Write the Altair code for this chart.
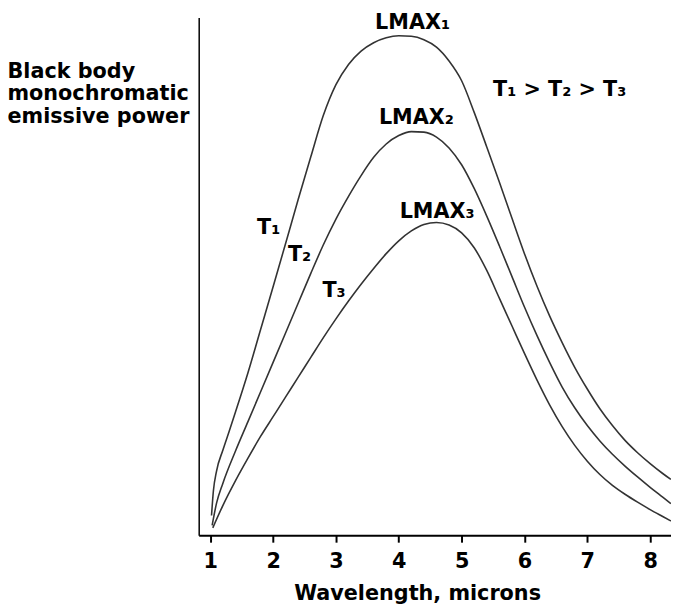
import altair as alt
import pandas as pd

# Curve T1 (hottest)
t1_x = [1.02, 1.05, 1.10, 1.20, 1.30, 1.40, 1.60, 1.80, 2.00, 2.20, 2.40, 2.60, 2.80, 3.00,
        3.20, 3.40, 3.60, 3.80, 4.00, 4.20, 4.40, 4.60, 4.80, 5.00, 5.20, 5.40, 5.60, 5.80,
        6.00, 6.20, 6.40, 6.60, 6.80, 7.00, 7.20, 7.40, 7.60, 7.80, 8.00, 8.20, 8.33]
t1_y = [4.0, 9.0, 13.0, 17.2, 21.0, 24.9, 32.9, 41.6, 50.3, 59.1, 68.0, 76.6, 85.0, 91.2,
        95.3, 98.0, 99.7, 100.7, 101.1, 101.0, 100.3, 98.8, 96.0, 92.0, 85.6, 78.6, 71.5, 64.2,
        57.0, 50.4, 44.4, 39.0, 34.0, 29.6, 25.6, 22.2, 19.2, 16.7, 14.5, 12.5, 11.3]

# Curve T2
t2_x = [1.03, 1.10, 1.20, 1.40, 1.60, 1.80, 2.00, 2.20, 2.40, 2.60, 2.80, 3.00, 3.20, 3.40,
        3.60, 3.80, 4.00, 4.20, 4.40, 4.60, 4.80, 5.00, 5.20, 5.40, 5.60, 5.80, 6.00, 6.20,
        6.40, 6.60, 6.80, 7.00, 7.20, 7.40, 7.60, 7.80, 8.00, 8.20, 8.33]
t2_y = [2.0, 6.5, 10.5, 17.0, 23.0, 29.0, 35.0, 41.0, 47.0, 53.0, 58.8, 64.0, 68.6, 72.8,
        76.5, 79.2, 80.9, 81.7, 81.6, 80.6, 78.4, 75.0, 70.2, 64.6, 58.6, 52.4, 46.2, 40.4,
        35.0, 30.0, 25.8, 22.2, 19.1, 16.4, 14.0, 11.8, 9.7, 7.7, 6.4]

# Curve T3 (coolest)
t3_x = [1.04, 1.20, 1.40, 1.60, 1.80, 2.00, 2.20, 2.40, 2.60, 2.80, 3.00, 3.20, 3.40, 3.60,
        3.80, 4.00, 4.20, 4.40, 4.60, 4.80, 5.00, 5.20, 5.40, 5.60, 5.80, 6.00, 6.20, 6.40,
        6.60, 6.80, 7.00, 7.20, 7.40, 7.60, 7.80, 8.00, 8.20, 8.33]
t3_y = [1.5, 6.0, 11.0, 15.6, 20.0, 24.0, 28.0, 32.0, 36.0, 40.0, 43.8, 47.4, 50.8, 54.0,
        57.0, 59.6, 61.6, 62.9, 63.3, 62.8, 61.2, 58.2, 53.6, 48.0, 42.4, 36.8, 31.4, 26.4,
        22.0, 18.2, 15.0, 12.3, 10.1, 8.3, 6.7, 5.2, 3.8, 2.9]

x_ticks = [1, 2, 3, 4, 5, 6, 7, 8]

label_text = ["LMAX\u2081", "LMAX\u2082", "LMAX\u2083", "T\u2081", "T\u2082", "T\u2083",
              "T\u2081 > T\u2082 > T\u2083"]
label_x = [4.22, 4.28, 4.61, 1.93, 2.42, 2.97, 6.56]
label_y = [102.4, 83.2, 64.2, 61.0, 55.6, 48.2, 89.0]

rows = []
for name, xs, ys in [("T1", t1_x, t1_y), ("T2", t2_x, t2_y), ("T3", t3_x, t3_y)]:
    for xv, yv in zip(xs, ys):
        rows.append({"curve": name, "wavelength": xv, "power": yv})
df = pd.DataFrame(rows)

labels_df = pd.DataFrame({"text": label_text, "wavelength": label_x, "power": label_y})

FONT = "DejaVu Sans"

x_enc = alt.X(
    "wavelength:Q",
    scale=alt.Scale(domain=[0.816, 8.332], nice=False, zero=False),
    axis=alt.Axis(
        values=x_ticks, format="d", grid=False,
        domainColor="black", domainWidth=2,
        tickColor="black", tickWidth=2, tickSize=7,
        labelFont=FONT, labelFontWeight="bold", labelFontSize=21, labelColor="black",
        labelPadding=9,
        title="Wavelength, microns", titleFont=FONT, titleFontWeight="bold",
        titleFontSize=21, titleColor="black", titleX=221, titleY=65,
        titleBaseline="alphabetic", titleAlign="center",
    ),
)
y_enc = alt.Y(
    "power:Q",
    scale=alt.Scale(domain=[0, 104.8], nice=False, zero=True),
    axis=alt.Axis(
        ticks=False, labels=False, grid=False,
        domainColor="black", domainWidth=1.5,
        title=["Black body", "monochromatic", "emissive power"],
        titleAngle=0, titleAlign="left", titleBaseline="alphabetic",
        titleX=-194, titleY=61, titleLineHeight=22.5,
        titleFont=FONT, titleFontWeight="bold", titleFontSize=21, titleColor="black",
    ),
)

lines = alt.Chart(df).mark_line(
    color="#333333", strokeWidth=1.6, interpolate="monotone", clip=True
).encode(x=x_enc, y=y_enc, detail="curve:N")

texts = alt.Chart(labels_df).mark_text(
    font=FONT, fontWeight="bold", fontSize=21, align="center",
    baseline="alphabetic", color="black"
).encode(x="wavelength:Q", y="power:Q", text="text:N")

chart = alt.layer(lines, texts).properties(
    width=478, height=524,
    autosize=alt.AutoSizeParams(type="none"),
    padding={"left": 193, "top": 6, "right": 0, "bottom": 70},
    background="white",
).configure_view(stroke=None)

chart.save("out.html", embed_options={"renderer": "svg", "actions": False})
